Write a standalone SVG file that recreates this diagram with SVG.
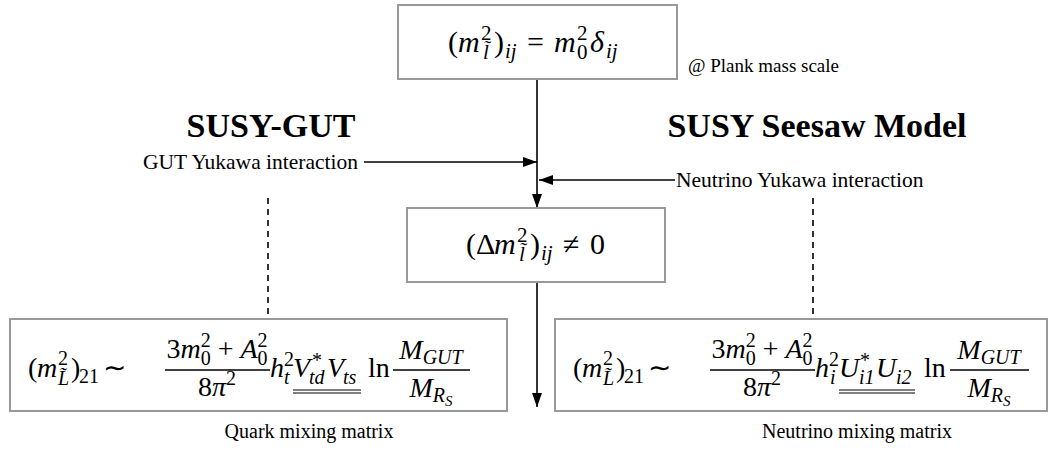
<svg xmlns="http://www.w3.org/2000/svg" width="1057" height="450" viewBox="0 0 1057 450">
<defs>
<style>
text{font-family:"Liberation Serif","Times New Roman",serif;fill:#000}
.box{fill:#fff;stroke:#999;stroke-width:2}
.conn{stroke:#000;stroke-width:1.6;fill:none}
.dash{stroke:#000;stroke-width:1.6;fill:none;stroke-dasharray:6 5}
.bar{stroke:#000;stroke-width:1.6}
.ul{stroke:#000;stroke-width:1}
.m{font-size:28px}
.mt{font-size:30px}
.s{font-size:20px}
.st{font-size:21px}
.ss{font-size:15px}
.i{font-style:italic}
.title{font-size:34px;font-weight:bold;text-anchor:middle}
.lbl{font-size:21.5px}
.cap{font-size:20px;text-anchor:middle}
.note{font-size:19px}
</style>
<marker id="ah" viewBox="0 0 14 10" refX="14" refY="5" markerWidth="14" markerHeight="10" orient="auto" markerUnits="userSpaceOnUse"><path d="M0,0 L14,5 L0,10 z" fill="#000"/></marker>
</defs>
<rect width="1057" height="450" fill="#fff"/>

<g id="connectors">
<path class="conn" d="M537,79 V208" marker-end="url(#ah)"/>
<path class="conn" d="M364,162 H537" marker-end="url(#ah)"/>
<path class="conn" d="M675,180 H539" marker-end="url(#ah)"/>
<path class="conn" d="M537,282 V407" marker-end="url(#ah)"/>
<path class="dash" d="M268,198 V314"/>
<path class="dash" d="M813,198 V314"/>
</g>

<g id="top">
<rect class="box" x="398" y="5" width="279" height="74"/>
<text class="mt" x="448" y="52">(</text>
<text class="mt i" x="458" y="52">m</text>
<text class="st" x="481" y="40">2</text>
<text class="st i" x="483" y="59">l̃</text>
<text class="mt" x="494" y="52">)</text>
<text class="st i" x="505" y="58">ij</text>
<text class="mt" x="527" y="52">=</text>
<text class="mt i" x="554" y="52">m</text>
<text class="st" x="577" y="40">2</text>
<text class="st" x="577" y="59">0</text>
<text class="mt i" x="590" y="52">δ</text>
<text class="st i" x="606" y="58">ij</text>
<text class="note" x="688" y="72">@ Plank mass scale</text>
</g>

<g id="labels">
<text class="title" x="271" y="137">SUSY-GUT</text>
<text class="title" x="817" y="137">SUSY Seesaw Model</text>
<text class="lbl" x="358" y="169" text-anchor="end">GUT Yukawa interaction</text>
<text class="lbl" x="676" y="187">Neutrino Yukawa interaction</text>
</g>

<g id="middle">
<rect class="box" x="407" y="208" width="258" height="74"/>
<text class="mt" x="466" y="254">(Δ</text>
<text class="mt i" x="494" y="254">m</text>
<text class="st" x="517" y="242">2</text>
<text class="st i" x="519" y="261">l̃</text>
<text class="mt" x="530" y="254">)</text>
<text class="st i" x="541" y="260">ij</text>
<text class="mt" x="563" y="254">≠</text>
<text class="mt" x="590" y="254">0</text>
</g>

<g id="left">
<rect class="box" x="10" y="319" width="497" height="92"/>
<g transform="translate(28,0)">
<text class="m" x="0" y="377">(</text>
<text class="m i" x="9" y="377">m</text>
<text class="s" x="30" y="365">2</text>
<text class="s i" x="30" y="385">L̃</text>
<text class="m" x="43" y="377">)</text>
<text class="s" x="51" y="383">21</text>
<text class="m" x="75" y="377">∼</text>
<line class="bar" x1="137" y1="370" x2="242" y2="370"/>
<text class="m" x="189" y="358" text-anchor="middle">3<tspan class="i">m</tspan><tspan class="s" dy="-11">2</tspan><tspan class="s" dx="-10" dy="18">0</tspan><tspan dy="-7"> + </tspan><tspan class="i">A</tspan><tspan class="s" dy="-11">2</tspan><tspan class="s" dx="-10" dy="18">0</tspan></text>
<text class="m" x="189" y="396" text-anchor="middle">8<tspan class="i">π</tspan><tspan class="s" dy="-11">2</tspan></text>
<text class="m i" x="242" y="377">h</text>
<text class="s" x="256" y="366">2</text>
<text class="s i" x="256" y="384">t</text>
<text class="m i" x="265" y="377">V</text>
<text class="s" x="284" y="367">*</text>
<text class="s i" x="281" y="384">td</text>
<text class="m i" x="299" y="377">V</text>
<text class="s i" x="315" y="384">ts</text>
<line class="ul" x1="265" y1="390" x2="333" y2="390"/>
<line class="ul" x1="265" y1="393" x2="333" y2="393"/>
<text class="m" x="340" y="377">ln</text>
<line class="bar" x1="365" y1="370" x2="442" y2="370"/>
<text class="m i" x="403" y="359" text-anchor="middle">M<tspan class="s" dy="5">GUT</tspan></text>
<text class="m i" x="403" y="397" text-anchor="middle">M<tspan class="s" dy="5">R</tspan><tspan class="ss" dy="4">S</tspan></text>
</g>
<text class="cap" x="309" y="438">Quark mixing matrix</text>
</g>

<g id="right">
<rect class="box" x="555" y="319" width="492" height="92"/>
<g transform="translate(573,0)">
<text class="m" x="0" y="377">(</text>
<text class="m i" x="9" y="377">m</text>
<text class="s" x="30" y="365">2</text>
<text class="s i" x="30" y="385">L̃</text>
<text class="m" x="43" y="377">)</text>
<text class="s" x="51" y="383">21</text>
<text class="m" x="75" y="377">∼</text>
<line class="bar" x1="137" y1="370" x2="242" y2="370"/>
<text class="m" x="189" y="358" text-anchor="middle">3<tspan class="i">m</tspan><tspan class="s" dy="-11">2</tspan><tspan class="s" dx="-10" dy="18">0</tspan><tspan dy="-7"> + </tspan><tspan class="i">A</tspan><tspan class="s" dy="-11">2</tspan><tspan class="s" dx="-10" dy="18">0</tspan></text>
<text class="m" x="189" y="396" text-anchor="middle">8<tspan class="i">π</tspan><tspan class="s" dy="-11">2</tspan></text>
<text class="m i" x="242" y="377">h</text>
<text class="s" x="256" y="366">2</text>
<text class="s i" x="257" y="384">i</text>
<text class="m i" x="266" y="377">U</text>
<text class="s" x="287" y="367">*</text>
<text class="s i" x="286" y="384">i1</text>
<text class="m i" x="303" y="377">U</text>
<text class="s i" x="323" y="384">i2</text>
<line class="ul" x1="266" y1="390" x2="342" y2="390"/>
<line class="ul" x1="266" y1="393" x2="342" y2="393"/>
<text class="m" x="351" y="377">ln</text>
<line class="bar" x1="377" y1="370" x2="456" y2="370"/>
<text class="m i" x="416" y="359" text-anchor="middle">M<tspan class="s" dy="5">GUT</tspan></text>
<text class="m i" x="416" y="397" text-anchor="middle">M<tspan class="s" dy="5">R</tspan><tspan class="ss" dy="4">S</tspan></text>
</g>
<text class="cap" x="857" y="438">Neutrino mixing matrix</text>
</g>
</svg>
